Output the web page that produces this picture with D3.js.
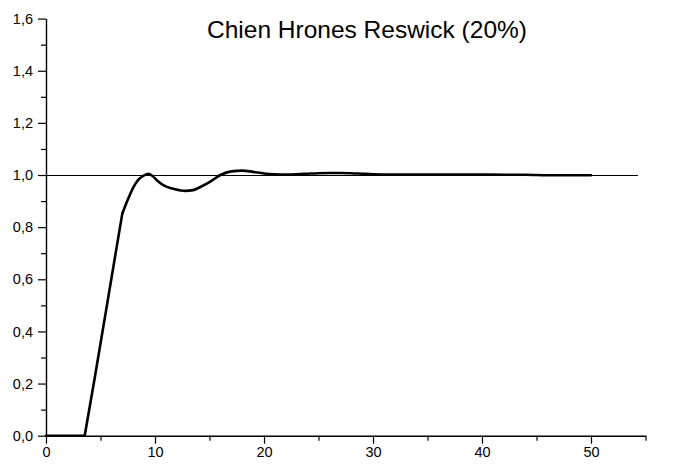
<!DOCTYPE html>
<html>
<head>
<meta charset="utf-8">
<script src="https://cdn.jsdelivr.net/npm/d3@7"></script>
<style>
   body { margin: 0; background: #fff; }
   text { font-family: "Liberation Sans", Arial, sans-serif; fill: #000; }
</style>
</head>
<body>
<div id="chart"></div>
<script>
// Step response data (time, output)
var times = [0, 3.55, 4.5, 5.5, 6.3, 7.0, 7.5, 8.0, 8.5, 9.0, 9.4, 9.8, 10.3, 10.8,
   11.5, 12.2, 12.8, 13.5, 14.2, 15.0, 16.0, 17.0, 18.0, 19.0, 20.0, 21.0, 22.0,
   23.0, 24.0, 25.0, 26.0, 27.0, 28.0, 29.0, 30.0, 32, 34, 36, 38, 40, 42, 44,
   46, 48, 50];
var values = [0, 0, 0.229, 0.478, 0.678, 0.852, 0.905, 0.952, 0.983, 0.999, 1.005,
   0.995, 0.975, 0.960, 0.949, 0.942, 0.939, 0.942, 0.955, 0.973, 1.0, 1.014,
   1.017, 1.012, 1.006, 1.003, 1.002, 1.003, 1.005, 1.007, 1.008, 1.008, 1.007,
   1.005, 1.003, 1.002, 1.002, 1.002, 1.002, 1.002, 1.001, 1.001, 0.999, 0.999,
   0.999];

// Setpoint reference line
var refX = [0, 54.3];
var refY = [1, 1];

var xTicks = [0, 10, 20, 30, 40, 50];
var xMinorTicks = [5, 15, 25, 35, 45, 55];
var yTicks = [0, 0.2, 0.4, 0.6, 0.8, 1.0, 1.2, 1.4, 1.6];
var yMinorTicks = [0.1, 0.3, 0.5, 0.7, 0.9, 1.1, 1.3, 1.5];

var title = "Chien Hrones Reswick (20%)";

var width = 677, height = 465;

var svg = d3.select("#chart")
   .append("svg")
   .attr("width", width)
   .attr("height", height);

var xScale = d3.scaleLinear().domain([0, 55]).range([46, 645.5]);
var yScale = d3.scaleLinear().domain([0, 1.6]).range([435.7, 18.6]);

var fmt = function (d) { return d3.format(".1f")(d).replace(".", ","); };

// Minor ticks first (no labels)
svg.append("g")
   .attr("transform", "translate(0," + yScale(0) + ")")
   .call(d3.axisBottom(xScale).tickValues(xMinorTicks).tickSize(5).tickFormat("").tickSizeOuter(0))
   .call(g => g.select(".domain").remove());

svg.append("g")
   .attr("transform", "translate(" + xScale(0) + ",0)")
   .call(d3.axisLeft(yScale).tickValues(yMinorTicks).tickSize(5).tickFormat("").tickSizeOuter(0))
   .call(g => g.select(".domain").remove());

// X axis
var xAxis = svg.append("g")
   .attr("class", "axis")
   .attr("transform", "translate(0," + yScale(0) + ")")
   .call(d3.axisBottom(xScale).tickValues(xTicks).tickSize(8).tickSizeOuter(0).tickPadding(3));

xAxis.selectAll("text")
   .style("font-size", "14.5px");

// Y axis
var yAxis = svg.append("g")
   .attr("class", "axis")
   .attr("transform", "translate(" + xScale(0) + ",0)")
   .call(d3.axisLeft(yScale).tickValues(yTicks).tickFormat(fmt).tickSize(8).tickSizeOuter(0).tickPadding(5));

yAxis.selectAll("text")
   .style("font-size", "14.5px");

svg.selectAll(".domain")
   .attr("stroke", "#000")
   .attr("stroke-width", 1.4);

svg.selectAll(".tick line")
   .attr("stroke", "#000")
   .attr("stroke-width", 1.2);

// Reference line at 1.0
var refData = refX.map(function (x, i) { return { x: x, y: refY[i] }; });
var line = d3.line()
   .x(function (d) { return xScale(d.x); })
   .y(function (d) { return yScale(d.y); });

svg.append("path")
   .datum(refData)
   .attr("fill", "none")
   .attr("stroke", "#000")
   .attr("stroke-width", 1)
   .attr("shape-rendering", "crispEdges")
   .attr("d", line);

// Response curve: straight ramp, then smooth settling
var respData = times.map(function (t, i) { return { x: t, y: values[i] }; });
var rampData = respData.filter(function (d) { return d.x <= 7.0; });
var settleData = respData.filter(function (d) { return d.x >= 7.0; });

var curve = d3.line()
   .x(function (d) { return xScale(d.x); })
   .y(function (d) { return yScale(d.y); })
   .curve(d3.curveMonotoneX);

svg.append("path")
   .datum(rampData)
   .attr("fill", "none")
   .attr("stroke", "#000")
   .attr("stroke-width", 2.6)
   .attr("stroke-linejoin", "round")
   .attr("stroke-linecap", "round")
   .attr("d", line);

svg.append("path")
   .datum(settleData)
   .attr("fill", "none")
   .attr("stroke", "#000")
   .attr("stroke-width", 2.6)
   .attr("stroke-linejoin", "round")
   .attr("stroke-linecap", "round")
   .attr("d", curve);

// Title
svg.append("text")
   .attr("x", 367)
   .attr("y", 38)
   .attr("text-anchor", "middle")
   .style("font-size", "24.5px")
   .text(title);
</script>
</body>
</html>
